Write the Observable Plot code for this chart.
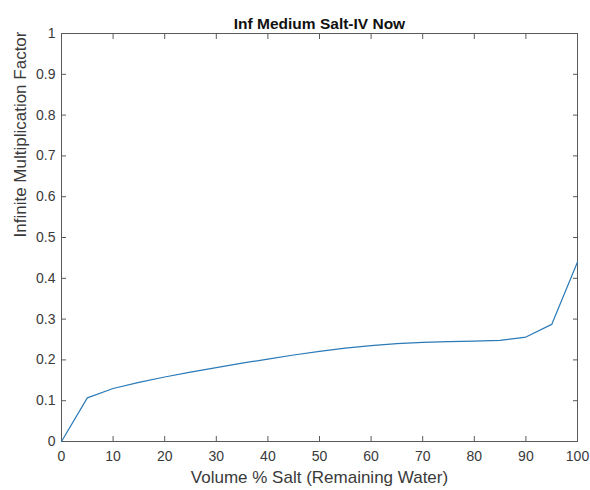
<!DOCTYPE html>
<html>
<head>
<meta charset="utf-8">
<script src="https://cdn.jsdelivr.net/npm/d3@7"></script>
<script src="https://cdn.jsdelivr.net/npm/@observablehq/plot@0.6"></script>
<style>
  body { margin: 0; background: #fff; }
  svg { font-family: "Liberation Sans", Arial, sans-serif; }
</style>
</head>
<body>
<div id="chart"></div>
<script>
const title = "Inf Medium Salt-IV Now";
const xLabel = "Volume % Salt (Remaining Water)";
const yLabel = "Infinite Multiplication Factor";
const volumeSalt = [0, 5, 10, 15, 20, 25, 30, 35, 40, 45, 50, 55, 60, 65, 70, 75, 80, 85, 90, 95, 100];
const kInf = [0, 0.107, 0.130, 0.145, 0.158, 0.170, 0.181, 0.192, 0.202, 0.212, 0.221, 0.229, 0.235, 0.240, 0.243, 0.245, 0.246, 0.248, 0.256, 0.287, 0.440];
const xTicks = [0, 10, 20, 30, 40, 50, 60, 70, 80, 90, 100];
const yTicks = [0, 0.1, 0.2, 0.3, 0.4, 0.5, 0.6, 0.7, 0.8, 0.9, 1];

const data = volumeSalt.map((x, i) => ({x, y: kInf[i]}));
const axisColor = "#5a5a5a";
const textColor = "#3a3a3a";

const plot = Plot.plot({
  width: 590,
  height: 490,
  marginLeft: 61,
  marginRight: 13,
  marginTop: 33,
  marginBottom: 49,
  style: {fontFamily: "'Liberation Sans', Arial, sans-serif", fontSize: "14px", color: textColor, background: "#fff"},
  x: {domain: [0, 100]},
  y: {domain: [0, 1]},
  marks: [
    Plot.frame({stroke: axisColor, strokeWidth: 1}),
    Plot.axisX({anchor: "bottom", ticks: xTicks, tickSize: -5, tickPadding: 15, stroke: axisColor, fill: textColor, fontSize: 14,
      tickFormat: d => String(d), label: null}),
    Plot.axisX({anchor: "top", ticks: xTicks, tickSize: -5, stroke: axisColor, tickFormat: () => "", label: null}),
    Plot.axisY({anchor: "left", ticks: yTicks, tickSize: -5, tickPadding: 11, stroke: axisColor, fill: textColor, fontSize: 14,
      tickFormat: d => String(+d.toFixed(1)), label: null}),
    Plot.axisY({anchor: "right", ticks: yTicks, tickSize: -5, stroke: axisColor, tickFormat: () => "", label: null}),
    Plot.line(data, {x: "x", y: "y", stroke: "#2a7ab8", strokeWidth: 1.2}),
    Plot.text([xLabel], {frameAnchor: "bottom", dy: 41, fontSize: 17, fill: textColor}),
    Plot.text([yLabel], {frameAnchor: "left", dx: -41, rotate: -90, fontSize: 17, fill: textColor}),
    Plot.text([title], {frameAnchor: "top", dy: -16, fontWeight: "bold", fontSize: 15.5, fill: "#111"})
  ]
});
document.getElementById("chart").appendChild(plot);
</script>
</body>
</html>
